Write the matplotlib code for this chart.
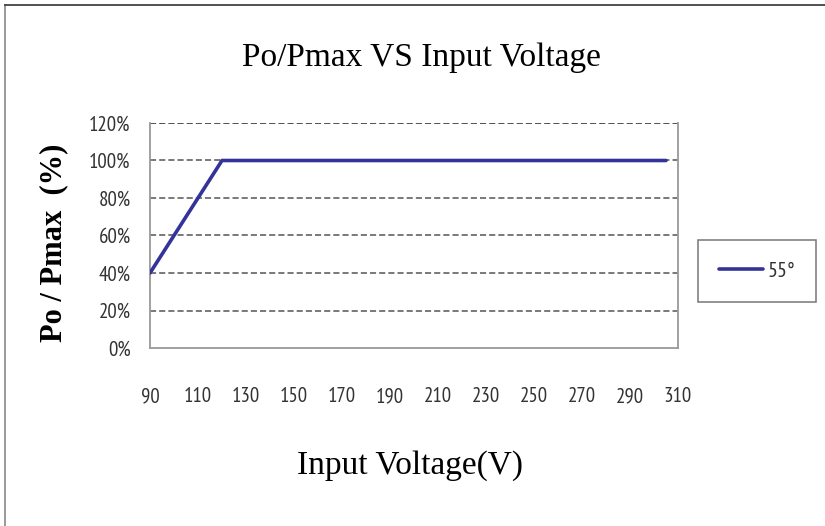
import matplotlib
matplotlib.use("Agg")
import matplotlib.pyplot as plt
from matplotlib.lines import Line2D

voltage = [90, 120, 305]
power_pct = [40, 100, 100]
series_label = "55°"
x_ticks = list(range(90, 311, 20))
y_ticks = list(range(0, 121, 20))

TITLE_FONT = ["Liberation Serif", "DejaVu Serif"]
TICK_FONT = ["PT Sans Narrow", "Pragati Narrow", "DejaVu Sans"]
YLAB_FONT = ["Liberation Serif", "DejaVu Serif"]

fig = plt.figure(figsize=(8.25, 5.26), dpi=100)
W, H = 825, 526
ax = fig.add_axes([150 / W, 1 - 348 / H, (678 - 150) / W, (348 - 123) / H])

ax.plot(voltage, power_pct, color="#333399", lw=2.6, solid_capstyle="round", label=series_label, zorder=3)
ax.set_xlim(90, 310)
ax.set_ylim(0, 120)
ax.set_xticks(x_ticks)
ax.set_yticks(y_ticks)
ax.set_xticklabels([str(v) for v in x_ticks], family=TICK_FONT, fontsize=15, color="#333333")
ax.set_yticklabels([f"{v}%" for v in y_ticks], family=TICK_FONT, fontsize=15, color="#333333")
ax.tick_params(length=0)
ax.tick_params(axis="y", pad=14)
ax.tick_params(axis="x", pad=28)
for yv in y_ticks[1:]:
    ax.axhline(yv, color="#222222" if yv == 120 else "#555555", lw=1.1, ls=(0, (4, 2)), zorder=1)
for s in ["left", "right", "bottom"]:
    ax.spines[s].set_color("#9a9a9a")
    ax.spines[s].set_linewidth(1.3)
ax.spines["top"].set_visible(False)

fig.text(421 / W, 1 - 58 / H, "Po/Pmax VS Input Voltage", ha="center", va="center",
         family=TITLE_FONT, fontsize=24)
fig.text(410 / W, 1 - 466 / H, "Input Voltage(V)", ha="center", va="center",
         family=TITLE_FONT, fontsize=24)
fig.text(54 / W, 1 - 243 / H, "Po / Pmax  (%)", ha="center", va="center", rotation=90,
         family=YLAB_FONT, fontweight="bold", fontsize=22)

leg = ax.legend(loc="center", bbox_to_anchor=(757 / W, 1 - 271 / H), bbox_transform=fig.transFigure,
                frameon=True, fancybox=False, edgecolor="#555555", handlelength=2.0,
                borderpad=0.95, handletextpad=0.2, borderaxespad=0,
                prop={"family": TICK_FONT, "size": 16})
leg.get_frame().set_linewidth(1.1)
for t in leg.get_texts():
    t.set_color("#333333")

fig.add_artist(Line2D([5 / W, 5 / W], [0, 1 - 5 / H], color="#888888", lw=1.2, transform=fig.transFigure))
fig.add_artist(Line2D([5 / W, 1], [1 - 5 / H, 1 - 5 / H], color="#333333", lw=1.2, transform=fig.transFigure))

fig.savefig("out.png", dpi=100)
